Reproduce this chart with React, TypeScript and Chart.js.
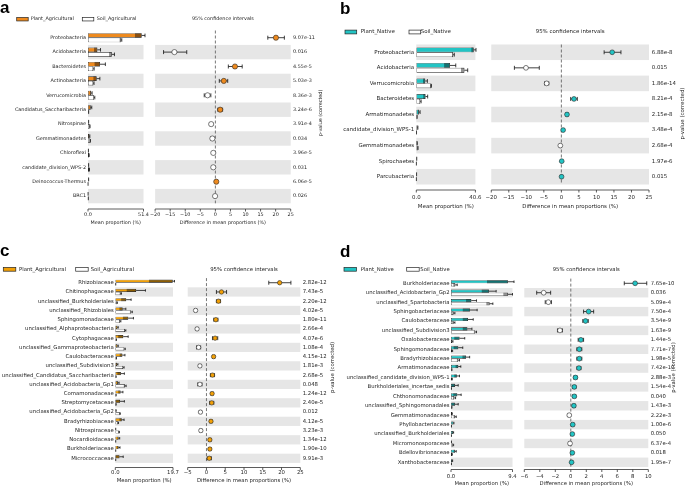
import React, { useEffect, useRef } from 'react';
import { Chart, registerables } from 'chart.js';

Chart.register(...registerables);

/* ---------------- Panel a : Plant_Agricultural vs Soil_Agricultural (phyla) ---------------- */
const aCategories = ['Proteobacteria', 'Acidobacteria', 'Bacteroidetes', 'Actinobacteria', 'Verrucomicrobia', 'Candidatus_Saccharibacteria', 'Nitrospinae', 'Gemmatimonadetes', 'Chloroflexi', 'candidate_division_WPS-2', 'Deinococcus-Thermus', 'BRC1'];
const aPlantMean = [49.7, 8.6, 11.1, 8.0, 2.8, 2.5, 0.4, 1.2, 0.3, 0.4, 0.4, 0.05];
const aPlantSd = [6.2, 3.0, 5.0, 3.0, 1.0, 1.0, 0.2, 0.5, 0.1, 0.2, 0.2, 0.03];
const aSoilMean = [30.3, 22.0, 4.9, 4.9, 5.6, 0.4, 1.6, 1.9, 0.9, 1.1, 0.05, 0.2];
const aSoilSd = [1.0, 2.5, 0.8, 0.7, 0.7, 0.2, 0.3, 0.4, 0.2, 0.3, 0.02, 0.1];
const aDiff = [20.1, -13.6, 6.5, 2.8, -2.6, 1.6, -1.4, -1.0, -0.7, -0.7, 0.3, -0.1];
const aCiLow = [17.4, -17.2, 4.3, 1.3, -3.7, 0.8, -1.9, -1.5, -1.0, -1.0, 0.1, -0.3];
const aCiHigh = [22.9, -9.5, 8.9, 4.1, -1.5, 2.4, -0.9, -0.5, -0.4, -0.4, 0.5, 0.1];
const aPValues = ['9.07e-11', '0.016', '4.55e-5', '5.03e-3', '8.36e-3', '3.24e-6', '3.91e-4', '0.034', '3.96e-5', '0.031', '6.06e-5', '0.026'];
const aMeanTicks = [0, 51.4];
const aDiffTicks = [-20, 25, 5];

/* ---------------- Panel b : Plant_Native vs Soil_Native (phyla) ---------------- */
const bCategories = ['Proteobacteria', 'Acidobacteria', 'Verrucomicrobia', 'Bacteroidetes', 'Armatimonadetes', 'candidate_division_WPS-1', 'Gemmatimonadetes', 'Spirochaetes', 'Parcubacteria'];
const bPlantMean = [39.4, 23.1, 6.1, 6.3, 1.8, 0.8, 0.5, 0.2, 0.15];
const bPlantSd = [1.6, 4.0, 1.5, 1.5, 0.8, 0.3, 0.2, 0.1, 0.05];
const bSoilMean = [25.3, 33.0, 9.9, 2.7, 0.4, 0.1, 0.9, 0.05, 0.05];
const bSoilSd = [0.8, 2.3, 0.5, 0.6, 0.2, 0.05, 0.3, 0.02, 0.02];
const bDiff = [14.5, -10.1, -4.2, 3.6, 1.6, 0.5, -0.3, 0.1, 0.05];
const bCiLow = [12.2, -13.4, -4.8, 2.65, 1.3, 0.3, -0.45, 0.0, -0.05];
const bCiHigh = [17.0, -6.3, -3.6, 4.55, 1.9, 0.7, -0.15, 0.2, 0.15];
const bPValues = ['6.88e-8', '0.015', '1.86e-14', '8.21e-4', '2.15e-8', '3.48e-4', '2.68e-4', '1.97e-6', '0.015'];
const bMeanTicks = [0, 40.6];
const bDiffTicks = [-20, 25, 5];

/* ---------------- Panel c : Plant_Agricultural vs Soil_Agricultural (families) ---------------- */
const cCategories = ['Rhizobiaceae', 'Chitinophagaceae', 'unclassified_Burkholderiales', 'unclassified_Rhizobiales', 'Sphingomonadaceae', 'unclassified_Alphaproteobacteria', 'Cytophagaceae', 'unclassified_Gammaproteobacteria', 'Caulobacteraceae', 'unclassified_Subdivision3', 'unclassified_Candidatus_Saccharibacteria', 'unclassified_Acidobacteria_Gp1', 'Comamonadaceae', 'Streptomycetaceae', 'unclassified_Acidobacteria_Gp2', 'Bradyrhizobiaceae', 'Nitrospiraceae', 'Nocardioidaceae', 'Burkholderiaceae', 'Micrococcaceae'];
const cPlantMean = [19.6, 7.1, 3.7, 2.5, 4.4, 0.7, 2.7, 0.7, 2.4, 0.6, 1.9, 0.9, 1.8, 1.6, 0.2, 2.2, 0.1, 1.1, 1.1, 1.4];
const cPlantSd = [8.1, 3.2, 1.7, 1.1, 1.8, 0.3, 1.7, 0.3, 0.9, 0.3, 1.2, 0.4, 0.8, 1.5, 0.1, 0.8, 0.05, 0.4, 0.5, 1.3];
const cSoilMean = [0.1, 1.8, 0.5, 5.4, 1.6, 3.3, 0.3, 3.1, 0.3, 2.7, 0.2, 3.3, 0.2, 0.2, 1.5, 0.9, 1.2, 0.1, 0.1, 0.1];
const cSoilSd = [0.05, 0.3, 0.2, 0.4, 0.3, 0.3, 0.1, 0.3, 0.1, 0.3, 0.1, 0.4, 0.1, 0.1, 0.2, 0.2, 0.2, 0.05, 0.05, 0.05];
const cDiff = [19.5, 4.0, 3.2, -2.9, 2.5, -2.5, 2.3, -2.1, 1.9, -1.75, 1.6, -1.75, 1.5, 1.4, -1.6, 1.2, -1.5, 0.9, 0.9, 0.75];
const cCiLow = [16.6, 2.65, 2.65, -3.2, 1.95, -2.8, 1.6, -2.65, 1.6, -2.05, 1.05, -2.3, 1.2, 0.85, -1.9, 0.9, -1.8, 0.6, 0.6, 0.2];
const cCiHigh = [22.5, 5.35, 3.75, -2.6, 3.05, -2.2, 3.0, -1.55, 2.2, -1.45, 2.15, -1.2, 1.8, 1.95, -1.3, 1.5, -1.2, 1.2, 1.2, 1.3];
const cPValues = ['2.82e-12', '7.43e-5', '2.20e-12', '4.02e-5', '1.80e-11', '2.66e-4', '4.07e-6', '1.08e-4', '4.15e-12', '1.81e-3', '2.68e-5', '0.048', '1.24e-12', '2.40e-5', '0.012', '4.12e-5', '3.23e-3', '1.34e-12', '1.90e-10', '9.91e-3'];
const cMeanTicks = [0, 19.7];
const cDiffTicks = [-5, 25, 5];

/* ---------------- Panel d : Plant_Native vs Soil_Native (families) ---------------- */
const dCategories = ['Burkholderiaceae', 'unclassified_Acidobacteria_Gp2', 'unclassified_Spartobacteria', 'Sphingobacteriaceae', 'Caulobacteraceae', 'unclassified_Subdivision3', 'Oxalobacteraceae', 'Sphingomonadaceae', 'Bradyrhizobiaceae', 'Armatimonadaceae', 'unclassified_candidate_division_WPS-1', 'Burkholderiales_incertae_sedis', 'Chthonomonadaceae', 'unclassified_Sphingomonadales', 'Gemmatimonadaceae', 'Phyllobacteriaceae', 'unclassified_Burkholderiales', 'Micromonosporaceae', 'Bdellovibrionaceae', 'Xanthobacteraceae'];
const dPlantMean = [8.7, 5.8, 3.1, 2.9, 2.6, 2.5, 1.3, 1.1, 2.3, 1.1, 0.9, 0.6, 0.95, 0.6, 0.15, 0.35, 0.3, 0.05, 0.6, 0.2];
const dPlantSd = [3.2, 1.1, 0.8, 1.1, 0.8, 0.7, 0.8, 0.7, 0.55, 0.4, 0.4, 0.5, 0.6, 0.5, 0.05, 0.1, 0.1, 0.02, 0.2, 0.05];
const dSoilMean = [0.65, 8.7, 5.9, 0.4, 0.4, 3.7, 0.2, 0.15, 1.1, 0.1, 0.15, 0.05, 0.5, 0.1, 0.6, 0.05, 0.05, 0.3, 0.15, 0.05];
const dSoilSd = [0.3, 0.7, 0.5, 0.2, 0.2, 0.2, 0.1, 0.1, 0.2, 0.05, 0.05, 0.02, 0.2, 0.05, 0.2, 0.02, 0.02, 0.1, 0.05, 0.02];
const dDiff = [8.3, -3.5, -2.9, 2.3, 1.9, -1.4, 1.3, 1.1, 1.1, 1.05, 0.6, 0.45, 0.45, 0.4, -0.2, 0.25, 0.2, -0.1, 0.2, 0.1];
const dCiLow = [6.9, -4.4, -3.3, 1.65, 1.55, -1.72, 0.95, 0.78, 0.78, 0.8, 0.4, 0.25, 0.25, 0.2, -0.35, 0.1, 0.05, -0.25, 0.05, 0.0];
const dCiHigh = [9.8, -2.6, -2.5, 2.95, 2.25, -1.08, 1.65, 1.42, 1.42, 1.3, 0.8, 0.65, 0.65, 0.6, -0.05, 0.4, 0.35, 0.05, 0.35, 0.2];
const dPValues = ['7.65e-10', '0.036', '5.09e-4', '7.50e-4', '3.54e-9', '1.63e-9', '1.44e-5', '7.71e-7', '1.98e-5', '7.42e-10', '2.88e-3', '1.54e-4', '0.040', '1.43e-3', '2.22e-3', '1.00e-6', '0.050', '6.37e-4', '0.018', '1.95e-7'];
const dMeanTicks = [0, 9.4];
const dDiffTicks = [-6, 10, 2];

/* ---------------- styles & layout (page pixels) ---------------- */
const FONT_FAMILY = '"DejaVu Sans", sans-serif';
const TEXT_COLOR = '#1e1e1e';
const BAND_COLOR = '#e6e6e6';
const EDGE = '#262626';
const ORANGE_A = '#ee8a1e';
const ORANGE_C = '#f2a007';
const TEAL = '#22c4c4';

const layoutA = { x0: 0, y0: 0, x1: 340, y1: 245, letterX: 0, letterY: 13.3, legendY: 19.2, plantBoxX: 16.7, soilBoxX: 82.3, boxW: 11.5, boxH: 3.5, plantTextX: 30.7, soilTextX: 96.7, barL: 88, barR: 143.5, diffL: 155, diffR: 290.7, rowTop: 30.5, rowBottom: 203.3, axisY: 209, tickY: 215.2, titleY: 223.2, pvalX: 293, pTitleX: 320.7, pTitleY: 113, font: 4.9, labelPad: 2, r: 2.6, catPct: 0.63 };
const layoutB = { x0: 340, y0: 0, x1: 685, y1: 245, letterX: 340, letterY: 14, legendY: 32, plantBoxX: 345, soilBoxX: 409, boxW: 11.7, boxH: 3.8, plantTextX: 360.7, soilTextX: 420.7, barL: 416.3, barR: 476.7, diffL: 490.3, diffR: 649, rowTop: 44.5, rowBottom: 184.5, axisY: 190, tickY: 197.3, titleY: 206.7, pvalX: 651.7, pTitleX: 682.5, pTitleY: 113.5, font: 5.45, labelPad: 2.2, r: 2.4, catPct: 0.62 };
const layoutC = { x0: 0, y0: 245, x1: 340, y1: 488, letterX: 0, letterY: 256, legendY: 269.3, plantBoxX: 3.3, soilBoxX: 75.7, boxW: 12.5, boxH: 3.8, plantTextX: 19, soilTextX: 90.7, barL: 115.3, barR: 173, diffL: 187.7, diffR: 300.3, rowTop: 278.1, rowBottom: 462.9, axisY: 467.5, tickY: 473, titleY: 481, pvalX: 302.7, pTitleX: 333, pTitleY: 367.5, font: 5.35, labelPad: 1.5, r: 2.2, catPct: 0.66 };
const layoutD = { x0: 340, y0: 245, x1: 685, y1: 488, letterX: 340, letterY: 256.7, legendY: 269.3, plantBoxX: 344, soilBoxX: 406.7, boxW: 12.5, boxH: 3.8, plantTextX: 360.7, soilTextX: 420.3, barL: 451, barR: 512.5, diffL: 524.3, diffR: 648.3, rowTop: 278.6, rowBottom: 467, axisY: 469.5, tickY: 476.5, titleY: 483.5, pvalX: 650.7, pTitleX: 674, pTitleY: 367.5, font: 5.3, labelPad: 1.5, r: 2.4, catPct: 0.66 };

const panels = [
  { key: 'a', letter: 'a', color: ORANGE_A, plantLabel: 'Plant_Agricultural', soilLabel: 'Soil_Agricultural', cats: aCategories, plant: aPlantMean, plantSd: aPlantSd, soil: aSoilMean, soilSd: aSoilSd, diff: aDiff, ciLow: aCiLow, ciHigh: aCiHigh, pvals: aPValues, meanTicks: aMeanTicks, diffTicks: aDiffTicks, L: layoutA },
  { key: 'b', letter: 'b', color: TEAL, plantLabel: 'Plant_Native', soilLabel: 'Soil_Native', cats: bCategories, plant: bPlantMean, plantSd: bPlantSd, soil: bSoilMean, soilSd: bSoilSd, diff: bDiff, ciLow: bCiLow, ciHigh: bCiHigh, pvals: bPValues, meanTicks: bMeanTicks, diffTicks: bDiffTicks, L: layoutB },
  { key: 'c', letter: 'c', color: ORANGE_C, plantLabel: 'Plant_Agricultural', soilLabel: 'Soil_Agricultural', cats: cCategories, plant: cPlantMean, plantSd: cPlantSd, soil: cSoilMean, soilSd: cSoilSd, diff: cDiff, ciLow: cCiLow, ciHigh: cCiHigh, pvals: cPValues, meanTicks: cMeanTicks, diffTicks: cDiffTicks, L: layoutC },
  { key: 'd', letter: 'd', color: TEAL, plantLabel: 'Plant_Native', soilLabel: 'Soil_Native', cats: dCategories, plant: dPlantMean, plantSd: dPlantSd, soil: dSoilMean, soilSd: dSoilSd, diff: dDiff, ciLow: dCiLow, ciHigh: dCiHigh, pvals: dPValues, meanTicks: dMeanTicks, diffTicks: dDiffTicks, L: layoutD },
];

function fmtDiff(v: number) {
  return v < 0 ? '\u2212' + Math.abs(v) : String(v);
}

function drawBands(chart: any, n: number) {
  const { ctx, chartArea: ca } = chart;
  const ys = chart.scales.y;
  const rowH = ca.height / n;
  ctx.save();
  ctx.fillStyle = BAND_COLOR;
  for (let i = 0; i < n; i++) {
    if ((n - 1 - i) % 2 === 0) {
      const yc = ys.getPixelForValue(i);
      ctx.fillRect(ca.left, yc - rowH / 2, ca.right - ca.left, rowH);
    }
  }
  ctx.restore();
}

function drawSpine(chart: any, yPix: number) {
  const { ctx, chartArea: ca } = chart;
  const xs = chart.scales.x;
  ctx.save();
  ctx.strokeStyle = '#333';
  ctx.lineWidth = 0.8;
  ctx.beginPath();
  ctx.moveTo(ca.left, yPix);
  ctx.lineTo(ca.right, yPix);
  xs.ticks.forEach((t: any) => {
    const px = xs.getPixelForValue(t.value);
    ctx.moveTo(px, yPix);
    ctx.lineTo(px, yPix + 2.5);
  });
  ctx.stroke();
  ctx.restore();
}

function barConfig(p: any, cx: number, cy: number, cw: number, ch: number) {
  const L = p.L;
  const fs = L.font;
  const lh = fs * 1.2;
  const font = { family: FONT_FAMILY, size: fs };
  const n = p.cats.length;
  const plugin = {
    id: 'barDecor',
    beforeDatasetsDraw(chart: any) {
      drawBands(chart, n);
    },
    afterDatasetsDraw(chart: any) {
      const { ctx, chartArea: ca } = chart;
      const xs = chart.scales.x;
      const groups = [[p.plant, p.plantSd], [p.soil, p.soilSd]];
      ctx.save();
      groups.forEach(([means, sds]: any, d: number) => {
        const meta = chart.getDatasetMeta(d);
        meta.data.forEach((el: any, i: number) => {
          const { x, y, height } = el.getProps(['x', 'y', 'height'], true);
          const m = means[i];
          const s = sds[i];
          const lo = xs.getPixelForValue(Math.max(0, m - s));
          const hi = Math.min(xs.getPixelForValue(m + s), ca.right + 1.5);
          ctx.fillStyle = 'rgba(0,0,0,0.42)';
          ctx.fillRect(lo, y - height / 2, x - lo, height);
          ctx.strokeStyle = '#111';
          ctx.lineWidth = 0.8;
          ctx.beginPath();
          ctx.moveTo(x, y);
          ctx.lineTo(hi, y);
          ctx.moveTo(hi, y - height * 0.4);
          ctx.lineTo(hi, y + height * 0.4);
          ctx.stroke();
        });
      });
      ctx.restore();
    },
    afterDraw(chart: any) {
      const { ctx, chartArea: ca } = chart;
      drawSpine(chart, L.axisY - cy);
      ctx.save();
      ctx.fillStyle = TEXT_COLOR;
      ctx.font = `${fs}px ${FONT_FAMILY}`;
      ctx.textBaseline = 'middle';
      ctx.textAlign = 'center';
      ctx.fillText('Mean proportion (%)', (ca.left + ca.right) / 2, L.titleY - cy);
      // legend
      const ly = L.legendY - cy;
      ctx.lineWidth = 0.7;
      ctx.strokeStyle = EDGE;
      ctx.fillStyle = p.color;
      ctx.fillRect(L.plantBoxX - cx, ly - L.boxH / 2, L.boxW, L.boxH);
      ctx.strokeRect(L.plantBoxX - cx, ly - L.boxH / 2, L.boxW, L.boxH);
      ctx.fillStyle = '#fff';
      ctx.fillRect(L.soilBoxX - cx, ly - L.boxH / 2, L.boxW, L.boxH);
      ctx.strokeRect(L.soilBoxX - cx, ly - L.boxH / 2, L.boxW, L.boxH);
      ctx.fillStyle = TEXT_COLOR;
      ctx.textAlign = 'left';
      ctx.fillText(p.plantLabel, L.plantTextX - cx, ly);
      ctx.fillText(p.soilLabel, L.soilTextX - cx, ly);
      // panel letter
      ctx.fillStyle = '#000';
      ctx.font = `bold 17px "Liberation Sans", Arial, sans-serif`;
      ctx.textBaseline = 'alphabetic';
      ctx.fillText(p.letter, L.letterX - cx, L.letterY - cy);
      ctx.restore();
    },
  };
  const ds = (label: string, data: number[], bg: string) => ({
    label,
    data,
    backgroundColor: bg,
    borderColor: EDGE,
    borderWidth: 0.6,
    borderSkipped: false,
    categoryPercentage: L.catPct,
    barPercentage: 1,
  });
  return {
    type: 'bar',
    data: {
      labels: p.cats,
      datasets: [ds(p.plantLabel, p.plant, p.color), ds(p.soilLabel, p.soil, '#ffffff')],
    },
    options: {
      responsive: false,
      animation: false,
      events: [],
      indexAxis: 'y',
      layout: { padding: { top: L.rowTop - cy, right: cx + cw - L.barR, left: 0, bottom: 0 } },
      plugins: { legend: { display: false }, title: { display: false }, tooltip: { enabled: false } },
      scales: {
        x: {
          type: 'linear',
          position: 'bottom',
          min: p.meanTicks[0],
          max: p.meanTicks[1],
          grid: { display: false, drawTicks: false },
          border: { display: false },
          afterBuildTicks: (s: any) => {
            s.ticks = p.meanTicks.map((v: number) => ({ value: v }));
          },
          afterFit: (s: any) => {
            s.height = cy + ch - L.rowBottom;
          },
          ticks: {
            autoSkip: false,
            maxRotation: 0,
            minRotation: 0,
            padding: L.tickY - L.rowBottom - lh / 2,
            font,
            color: TEXT_COLOR,
            callback: (v: any) => Number(v).toFixed(1),
          },
        },
        y: {
          type: 'category',
          position: 'left',
          offset: true,
          grid: { display: false, drawTicks: false },
          border: { display: false },
          afterFit: (s: any) => {
            s.width = L.barL - cx;
          },
          ticks: { autoSkip: false, padding: L.labelPad, font, color: TEXT_COLOR },
        },
      },
    },
    plugins: [plugin],
  };
}

function diffConfig(p: any, cx: number, cy: number, cw: number, ch: number) {
  const L = p.L;
  const fs = L.font;
  const lh = fs * 1.2;
  const font = { family: FONT_FAMILY, size: fs };
  const n = p.cats.length;
  const plugin = {
    id: 'diffDecor',
    beforeDatasetsDraw(chart: any) {
      const { ctx, chartArea: ca } = chart;
      const xs = chart.scales.x;
      const ys = chart.scales.y;
      drawBands(chart, n);
      ctx.save();
      const x0 = xs.getPixelForValue(0);
      ctx.strokeStyle = '#555';
      ctx.lineWidth = 0.8;
      ctx.setLineDash([3, 2]);
      ctx.beginPath();
      ctx.moveTo(x0, ca.top);
      ctx.lineTo(x0, ca.bottom);
      ctx.stroke();
      ctx.setLineDash([]);
      ctx.strokeStyle = '#111';
      ctx.lineWidth = 0.8;
      ctx.beginPath();
      for (let i = 0; i < n; i++) {
        const y = ys.getPixelForValue(i);
        const a = xs.getPixelForValue(p.ciLow[i]);
        const b = xs.getPixelForValue(p.ciHigh[i]);
        ctx.moveTo(a, y);
        ctx.lineTo(b, y);
        ctx.moveTo(a, y - 2);
        ctx.lineTo(a, y + 2);
        ctx.moveTo(b, y - 2);
        ctx.lineTo(b, y + 2);
      }
      ctx.stroke();
      ctx.restore();
    },
    afterDraw(chart: any) {
      const { ctx, chartArea: ca } = chart;
      drawSpine(chart, L.axisY - cy);
      ctx.save();
      ctx.fillStyle = TEXT_COLOR;
      ctx.font = `${fs}px ${FONT_FAMILY}`;
      ctx.textBaseline = 'middle';
      ctx.textAlign = 'center';
      const mid = (ca.left + ca.right) / 2;
      ctx.fillText('Difference in mean proportions (%)', mid, L.titleY - cy);
      ctx.fillText('95% confidence intervals', mid, L.legendY - cy);
      ctx.translate(L.pTitleX - cx, L.pTitleY - cy);
      ctx.rotate(-Math.PI / 2);
      ctx.fillText('p-value (corrected)', 0, 0);
      ctx.restore();
    },
  };
  return {
    type: 'scatter',
    data: {
      datasets: [
        {
          label: 'difference',
          data: p.cats.map((c: string, i: number) => ({ x: p.diff[i], y: c })),
          pointRadius: L.r,
          pointHoverRadius: L.r,
          pointBackgroundColor: p.diff.map((d: number) => (d > 0 ? p.color : '#ffffff')),
          pointBorderColor: EDGE,
          pointBorderWidth: 0.6,
        },
      ],
    },
    options: {
      responsive: false,
      animation: false,
      events: [],
      layout: { padding: { top: L.rowTop - cy, left: L.diffL - cx, right: 0, bottom: 0 } },
      plugins: { legend: { display: false }, title: { display: false }, tooltip: { enabled: false } },
      scales: {
        x: {
          type: 'linear',
          position: 'bottom',
          min: p.diffTicks[0],
          max: p.diffTicks[1],
          grid: { display: false, drawTicks: false },
          border: { display: false },
          afterFit: (s: any) => {
            s.height = cy + ch - L.rowBottom;
          },
          ticks: {
            stepSize: p.diffTicks[2],
            autoSkip: false,
            maxRotation: 0,
            minRotation: 0,
            padding: L.tickY - L.rowBottom - lh / 2,
            font,
            color: TEXT_COLOR,
            callback: (v: any) => fmtDiff(Number(v)),
          },
        },
        y: { type: 'category', labels: p.cats, offset: true, display: false },
        yp: {
          type: 'category',
          labels: p.pvals,
          offset: true,
          position: 'right',
          grid: { display: false, drawTicks: false },
          border: { display: false },
          afterFit: (s: any) => {
            s.width = cx + cw - L.diffR;
          },
          ticks: { autoSkip: false, padding: L.pvalX - L.diffR, font, color: TEXT_COLOR },
        },
      },
    },
    plugins: [plugin],
  };
}

function ChartCanvas({ left, top, width, height, make }: any) {
  const ref = useRef<HTMLCanvasElement>(null);
  useEffect(() => {
    if (!ref.current) return;
    const chart = new Chart(ref.current, make());
    return () => chart.destroy();
  }, []);
  return (
    <canvas
      ref={ref}
      width={width}
      height={height}
      style={{ position: 'absolute', left, top, width, height }}
    />
  );
}

function Panel({ p }: any) {
  const L = p.L;
  const bx = L.x0;
  const by = L.y0;
  const bw = Math.round(L.barR + 14 - L.x0);
  const bh = L.y1 - L.y0;
  const dx = Math.floor(L.diffL - 14);
  const dw = L.x1 - dx;
  return (
    <>
      <ChartCanvas left={bx} top={by} width={bw} height={bh} make={() => barConfig(p, bx, by, bw, bh)} />
      <ChartCanvas left={dx} top={by} width={dw} height={bh} make={() => diffConfig(p, dx, by, dw, bh)} />
    </>
  );
}

export default function App() {
  return (
    <div
      style={{
        position: 'fixed',
        left: 0,
        top: 0,
        width: 685,
        height: 488,
        background: '#ffffff',
        overflow: 'hidden',
      }}
    >
      {panels.map((p) => (
        <Panel key={p.key} p={p} />
      ))}
    </div>
  );
}
